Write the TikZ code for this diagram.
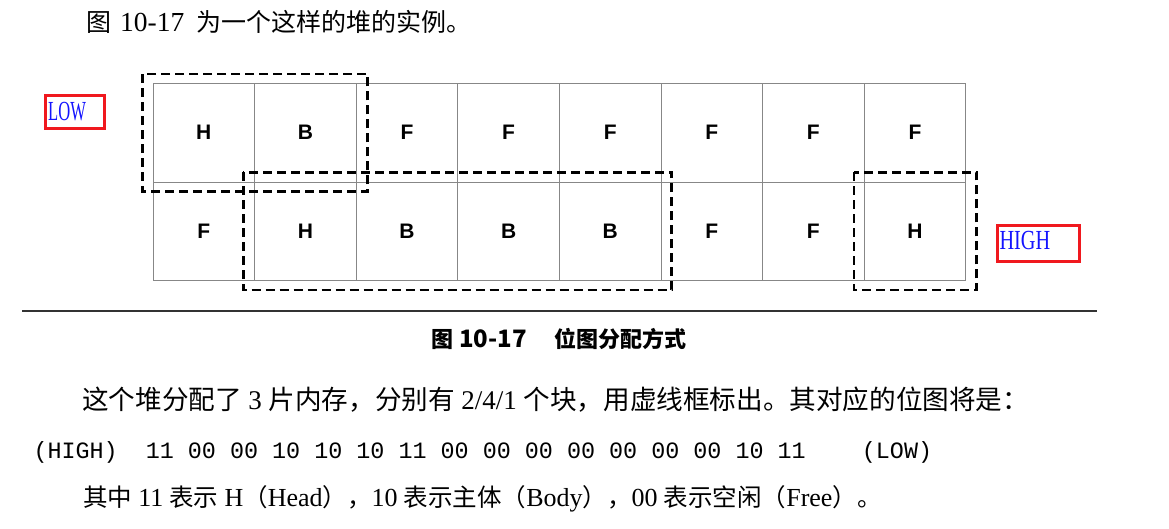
\documentclass[tikz,border=0pt]{standalone}
\usepackage{fontspec}
\usepackage{graphicx}
\setmainfont{Liberation Serif}
\setsansfont{Liberation Sans}
\setmonofont{Liberation Mono}
\newfontfamily\cjk{Noto Sans CJK SC}
\newcommand{\lat}[2][27]{{\fontsize{#1}{30}\selectfont #2}}
\definecolor{boxred}{RGB}{240,24,30}
\definecolor{lblue}{RGB}{20,20,255}
\definecolor{gridgray}{RGB}{135,135,135}
\begin{document}
\begin{tikzpicture}[x=1pt,y=-1pt,
  cell/.style={draw=gridgray, line width=0.7pt, minimum width=101.6pt, minimum height=98.5pt,
    inner sep=0pt, font=\sffamily\bfseries\fontsize{21}{21}\selectfont},
  dbox/.style={line width=2.6pt, dash pattern=on 9pt off 5pt, draw=black},
  redbox/.style={draw=boxred, line width=3pt},
  txt/.style={anchor=base west, inner sep=0pt, font=\fontsize{25}{30}\selectfont},
  lab/.style={anchor=base west, inner sep=0pt, text=lblue, font=\rmfamily\fontsize{27.6}{30}\selectfont}]
\useasboundingbox (0,0) rectangle (1169,528);
\fill[white] (0,0) rectangle (1169,528);

% top line
\node[txt] (l1) at (86,31.5) {{\cjk 图}\hspace{9pt}\lat[27.5]{10-17}\hspace{12pt}{\cjk 为一个这样的堆的实例。}};

% grid
\foreach \l [count=\i] in {H,B,F,F,F,F,F,F}
  \node[cell] (t\i) at ({153+101.6*(\i-0.5)},132.75) {\l};
\foreach \l [count=\i] in {F,H,B,B,B,F,F,H}
  \node[cell] (b\i) at ({153+101.6*(\i-0.5)},231.25) {\l};

% allocated regions
\draw[dbox] (142.7,74) rectangle (367.7,191.7);
\draw[dbox] (243.3,172.3) rectangle (671.7,290);
\draw[dbox] (854,172.3) rectangle (976.7,290);

% LOW / HIGH
\draw[redbox] (45.7,95.7) rectangle (104.3,128.3);
\node[lab] (low) at (48,120) {\scalebox{0.6}[1]{LOW}};
\draw[redbox] (997.3,225) rectangle (1079,261.7);
\node[lab] (high) at (999.3,249) {\scalebox{0.735}[1]{HIGH}};

% rule
\draw[line width=1.4pt, draw=black!80] (22,311) -- (1097,311);

% caption
\node[anchor=base west, inner sep=0pt, font=\cjk\bfseries\fontsize{22}{26}\selectfont] (cap) at (431,347)
  {图\hspace{6pt}{\fontsize{24}{26}\selectfont 10-17}\hspace{28pt}位图分配方式};

% explanation line
\node[txt, font=\fontsize{26.6}{30}\selectfont] (l3) at (82,409)
  {{\cjk 这个堆分配了} \lat{3} {\cjk 片内存，分别有} \lat{2/4/1} {\cjk 个块，用虚线框标出。其对应的位图将是：}};

% bitmap line
\node[anchor=base west, inner sep=0pt, font=\ttfamily\fontsize{23.4}{26}\selectfont] (bits) at (33.3,458)
  {(HIGH)~~11 00 00 10 10 10 11 00 00 00 00 00 00 00 10 11~~~~(LOW)};

% legend line
\node[txt, font=\fontsize{24.5}{30}\selectfont] (l5) at (83,506.5)
  {{\cjk 其中} \lat[26]{11} {\cjk 表示} \lat[26]{H}{\cjk （}\lat[26]{Head}{\cjk ），}\lat[26]{10} {\cjk 表示主体（}\lat[26]{Body}{\cjk ），}\lat[26]{00} {\cjk 表示空闲（}\lat[26]{Free}{\cjk ）。}};
\end{tikzpicture}
\end{document}
